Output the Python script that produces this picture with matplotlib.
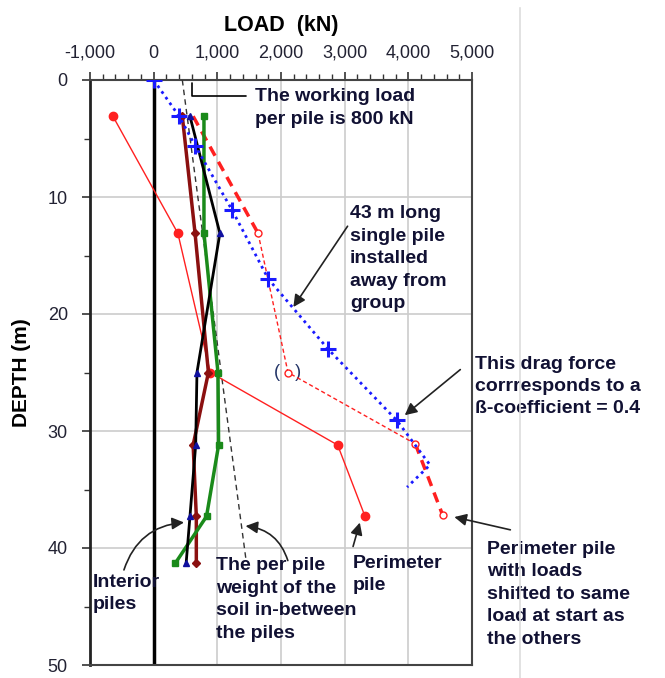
import numpy as np
import matplotlib.pyplot as plt
from matplotlib.ticker import MultipleLocator, FuncFormatter
from matplotlib.lines import Line2D

plt.rcParams['font.family'] = ['Liberation Sans', 'DejaVu Sans']

# single pile, 43 m long, away from group
single_depth = [0, 3.1, 5.6, 11.1, 17.0, 23.0, 29.1, 32.9, 34.8]
single_load = [0, 400, 650, 1230, 1800, 2740, 3820, 4340, 3980]

# perimeter pile (measured)
perim_depth = [3.1, 13.1, 25.0, 31.2, 37.3]
perim_load = [-640, 380, 890, 2890, 3320]

# perimeter pile shifted to same start load
shift_depth = [3.1, 13.1, 25.0, 31.1, 37.2]
shift_load = [620, 1640, 2110, 4110, 4540]

# interior piles
int_depth = [3.1, 13.1, 25.0, 31.2, 37.3, 41.3]
maroon_load = [450, 650, 860, 620, 670, 670]
green_load = [790, 790, 1010, 1020, 830, 340]
black_load = [570, 1040, 680, 660, 570, 510]

# per pile weight of soil in between
soil_depth = [0, 41]
soil_load = [450, 1450]

fig = plt.figure(figsize=(6.65, 6.78), dpi=100)
ax = fig.add_axes([90/665, 1-665/678, 382/665, 585/678])

ax.set_xlim(-1000, 5000)
ax.set_ylim(50, 0)
ax.xaxis.tick_top()
ax.xaxis.set_label_position('top')
ax.xaxis.set_major_locator(MultipleLocator(1000))
ax.xaxis.set_minor_locator(MultipleLocator(200))
ax.yaxis.set_major_locator(MultipleLocator(10))
ax.yaxis.set_minor_locator(MultipleLocator(5))
ax.xaxis.set_major_formatter(FuncFormatter(lambda v, p: '{:,.0f}'.format(v)))
ax.tick_params(which='both', direction='out', labelsize=13, color='#333333', labelcolor='#222233')
ax.tick_params(which='major', length=6, width=1.2)
ax.tick_params(which='minor', length=4, width=1)
ax.tick_params(axis='x', pad=7)
ax.tick_params(axis='y', pad=10)
ax.grid(True, which='major', color='#cccccc', linewidth=1.2)
for s in ax.spines.values():
    s.set_color('#444444')
    s.set_linewidth(1.5)
ax.spines['left'].set_color('#222222')
ax.spines['left'].set_linewidth(2)

ax.set_xlabel('LOAD  (kN)', fontsize=15.5, fontweight='bold', labelpad=10)
ax.set_ylabel('DEPTH (m)', fontsize=15, fontweight='bold', labelpad=12)

ax.axvline(0, color='black', linewidth=2.5, zorder=2)

ax.plot(soil_load, soil_depth, color='#333333', linestyle=(0, (4, 3)), linewidth=1, zorder=3)

ax.plot(perim_load, perim_depth, color='#ff2020', linewidth=1, marker='o', markersize=6, zorder=4)

ax.plot(shift_load[:2], shift_depth[:2], color='#ff2020', linewidth=2.5, linestyle=(0, (3, 2)), zorder=4)
ax.plot(shift_load[1:4], shift_depth[1:4], color='#ff2020', linewidth=1, linestyle=(0, (3, 2)), zorder=4)
ax.plot(shift_load[3:], shift_depth[3:], color='#ff2020', linewidth=2.5, linestyle=(0, (3, 2)), zorder=4)
ax.plot(shift_load[1:], shift_depth[1:], linestyle='none', marker='o', markersize=5,
        markerfacecolor='white', markeredgecolor='#ff2020', markeredgewidth=1, zorder=5)

ax.plot(maroon_load, int_depth, color='#8b1010', linewidth=2.5, marker='D', markersize=4, zorder=4)
ax.plot(green_load, int_depth, color='#1a8a1a', linewidth=2.5, marker='s', markersize=5, zorder=4)
ax.plot(black_load, int_depth, color='black', linewidth=2, marker='^', markersize=5,
        markerfacecolor='#1010a0', markeredgecolor='#1010a0', zorder=5)

ax.plot(single_load, single_depth, color='#1a1aff', linewidth=2, linestyle=(0, (1, 1.5)),
        marker='+', markersize=11, markeredgewidth=2.2, markevery=list(range(7)), zorder=6)

ax.text(2110, 25, '(   )', ha='center', va='center', fontsize=13, color='#223366')

tc = '#111133'
tk = dict(fontsize=14, fontweight='bold', color=tc, linespacing=1.42, va='top', ha='left')
arr = dict(arrowstyle='-|>', color='#222222', lw=1.2, mutation_scale=18)

ax.annotate('', xy=(600, 0), xytext=(1500, 1.4),
            arrowprops=dict(arrowstyle='-', color='black', lw=1.2, connectionstyle='angle,angleA=0,angleB=90,rad=0'))
ax.text(1590, 0.7, 'The working load\nper pile is 800 kN', **tk)

ax.text(3085, 10.7, '43 m long\nsingle pile\ninstalled\naway from\ngroup', **tk)
ax.annotate('', xy=(2170, 19.6), xytext=(3070, 12.3), arrowprops=arr)

ax.text(5050, 23.55, 'This drag force\ncorrresponds to a\nß-coefficient = 0.4', clip_on=False, **tk)
ax.annotate('', xy=(3910, 28.8), xytext=(4850, 24.6), arrowprops=arr, annotation_clip=False)

ax.text(5235, 39.4, 'Perimeter pile\nwith loads\nshifted to same\nload at start as\nthe others', clip_on=False, **tk)
ax.annotate('', xy=(4680, 37.3), xytext=(5645, 38.5), arrowprops=arr, annotation_clip=False)

ax.text(3130, 40.6, 'Perimeter\npile', **tk)
ax.annotate('', xy=(3250, 37.6), xytext=(3120, 40.1), arrowprops=arr)

ax.text(980, 40.8, 'The per pile\nweight of the\nsoil in-between\nthe piles', **tk)
ax.annotate('', xy=(1400, 38.1), xytext=(2120, 41.3),
            arrowprops=dict(arr, connectionstyle='arc3,rad=0.35'))

ax.text(-950, 42.2, 'Interior\npiles', **tk)
ax.annotate('', xy=(520, 37.8), xytext=(-480, 42.1),
            arrowprops=dict(arr, connectionstyle='arc3,rad=-0.35'))

fig.add_artist(Line2D([520/665, 520/665], [0, 1-8/678], color='#dddddd', linewidth=1.2))

fig.savefig('out.png', dpi=100)
